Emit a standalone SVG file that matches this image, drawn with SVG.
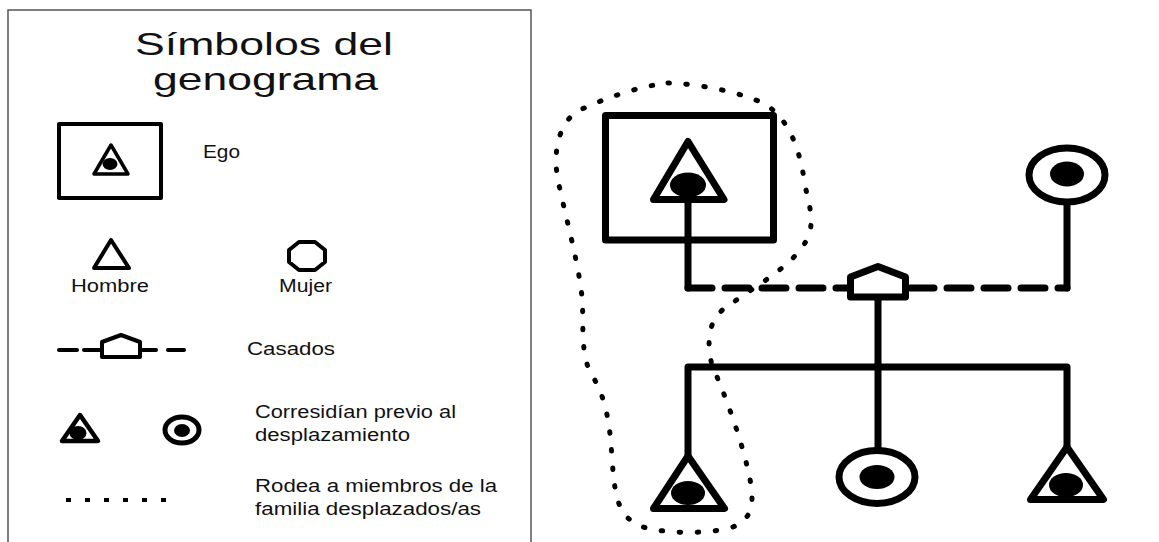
<svg xmlns="http://www.w3.org/2000/svg" width="1159" height="542" viewBox="0 0 1159 542">
<style>
.t{font-family:"Liberation Sans",Arial,sans-serif;fill:#111;}
.title{font-size:32px;}
.lbl{font-size:17.5px;}
.sym{fill:#fff;stroke:#000;stroke-linejoin:round;stroke-linecap:round;}
.big{stroke-width:7;}
.line{fill:none;stroke:#000;stroke-width:7;stroke-linejoin:round;stroke-linecap:round;}
.dash{fill:none;stroke:#000;stroke-width:7;stroke-linecap:round;stroke-dasharray:24 13;}
.dot{fill:#000;}
.encl{fill:none;stroke:#000;stroke-width:5;stroke-linecap:round;stroke-dasharray:1.5 16.5;}
</style>
<rect width="1159" height="542" fill="#fff"/>

<g id="legend">
  <rect x="8" y="10" width="523" height="545" fill="none" stroke="#555" stroke-width="1.5"/>
  <text class="t title" x="135" y="55" textLength="258" lengthAdjust="spacingAndGlyphs">Símbolos del</text>
  <text class="t title" x="153" y="90" textLength="225" lengthAdjust="spacingAndGlyphs">genograma</text>

  <g id="legend-ego">
    <rect x="59" y="124" width="102" height="74" class="sym" stroke-width="4"/>
    <polygon points="111,145 128,174 94,174" class="sym" stroke-width="3.5"/>
    <ellipse cx="110" cy="164" rx="7.5" ry="6" class="dot"/>
    <text class="t lbl" x="203" y="158" textLength="37" lengthAdjust="spacingAndGlyphs">Ego</text>
  </g>

  <g id="legend-hombre">
    <polygon points="111,240 129,268 94,268" class="sym" stroke-width="4"/>
    <text class="t lbl" x="71" y="292" textLength="78" lengthAdjust="spacingAndGlyphs">Hombre</text>
  </g>

  <g id="legend-mujer">
    <polygon points="299,242 315,242 325,250 325,262 315,270 299,270 289,262 289,250" class="sym" stroke-width="4"/>
    <text class="t lbl" x="279" y="292" textLength="53" lengthAdjust="spacingAndGlyphs">Mujer</text>
  </g>

  <g id="legend-casados">
    <g stroke="#000" stroke-width="4" stroke-linecap="round">
      <line x1="59" y1="350" x2="77" y2="350"/>
      <line x1="84" y1="350" x2="101" y2="350"/>
      <line x1="141" y1="350" x2="156" y2="350"/>
      <line x1="168" y1="350" x2="184" y2="350"/>
    </g>
    <polygon points="102,357 102,342 121,335 140,342 140,357" class="sym" stroke-width="4"/>
    <text class="t lbl" x="247" y="355" textLength="88" lengthAdjust="spacingAndGlyphs">Casados</text>
  </g>

  <g id="legend-corresiden">
    <polygon points="80,415 98,441 62,441" class="sym" stroke-width="4.5"/>
    <ellipse cx="78" cy="433" rx="8.5" ry="7" class="dot"/>
    <ellipse cx="182" cy="430" rx="17" ry="13" class="sym" stroke-width="5"/>
    <ellipse cx="182" cy="430.5" rx="8" ry="6.5" class="dot"/>
    <text class="t lbl" x="255" y="418" textLength="201" lengthAdjust="spacingAndGlyphs">Corresidían previo al</text>
    <text class="t lbl" x="255" y="441" textLength="155" lengthAdjust="spacingAndGlyphs">desplazamiento</text>
  </g>

  <g id="legend-rodea">
    <g class="dot">
      <rect x="66" y="498" width="5" height="4"/>
      <rect x="85" y="498" width="5" height="4"/>
      <rect x="104" y="498" width="5" height="4"/>
      <rect x="123" y="498" width="5" height="4"/>
      <rect x="142" y="498" width="5" height="4"/>
      <rect x="161" y="498" width="5" height="4"/>
    </g>
    <text class="t lbl" x="255" y="492" textLength="242" lengthAdjust="spacingAndGlyphs">Rodea a miembros de la</text>
    <text class="t lbl" x="255" y="515" textLength="226" lengthAdjust="spacingAndGlyphs">familia desplazados/as</text>
  </g>
</g>

<g id="connectors">
  <path class="line" d="M688,200 V288"/>
  <path class="dash" d="M688,288 H1067"/>
  <path class="line" d="M1067,288 V202"/>
  <path class="line" d="M878,297 V448"/>
  <path class="line" d="M688,456 V367 H1067 V447"/>
</g>

<g id="ego">
  <rect x="605.5" y="115.5" width="168" height="124.5" fill="none" stroke="#000" stroke-width="7" stroke-linejoin="round"/>
  <polygon points="688,141.5 724,199.5 653.5,199.5" class="sym big"/>
  <ellipse cx="688" cy="185" rx="18" ry="12.5" class="dot"/>
</g>

<g id="mujer-arriba">
  <ellipse cx="1067" cy="175" rx="38" ry="27" class="sym big"/>
  <ellipse cx="1067" cy="174" rx="17" ry="12.5" class="dot"/>
</g>

<g id="casados">
  <polygon points="850.5,297 850.5,277 878,266.5 905.5,277 905.5,297" class="sym big"/>
</g>

<g id="hijo-izquierda">
  <polygon points="688,456 724.5,508.5 653.5,508.5" class="sym big"/>
  <ellipse cx="688" cy="493" rx="17" ry="12" class="dot"/>
</g>

<g id="hija-centro">
  <ellipse cx="877" cy="477" rx="38" ry="26.5" class="sym big"/>
  <ellipse cx="877" cy="477" rx="17.5" ry="12" class="dot"/>
</g>

<g id="hijo-derecha">
  <polygon points="1067,447 1103.5,499.5 1030.5,499.5" class="sym big"/>
  <ellipse cx="1066" cy="485" rx="17" ry="12" class="dot"/>
</g>

<g id="desplazados">
  <path class="encl" d="M668,83 C700,84 740,92 765,104 C790,120 800,150 805,185 C810,210 818,228 800,250 C785,270 750,290 725,308 C705,322 708,350 712,365 C725,395 740,435 748,470 C755,500 755,520 730,528 C700,535 660,533 640,526 C615,515 615,490 612,460 C610,420 605,395 590,372 C580,350 584,320 582,297 C578,260 565,215 558,180 C552,150 560,120 580,110 C605,98 640,86 668,83 Z"/>
</g>
</svg>
